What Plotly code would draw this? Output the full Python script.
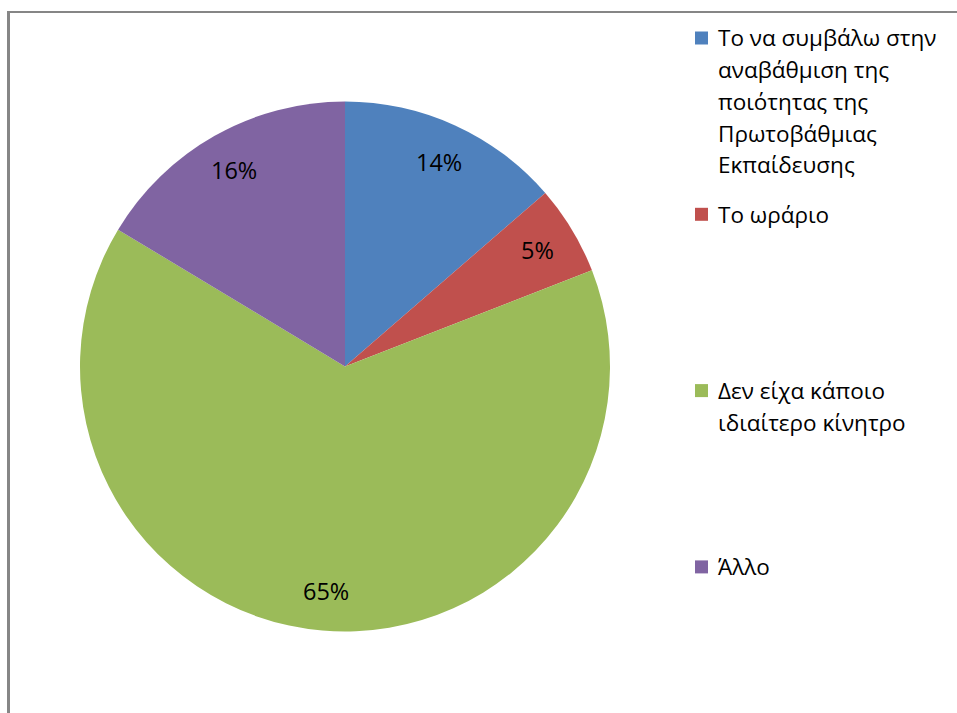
import math
import plotly.graph_objects as go

# Survey answers: motivation for choosing the profession
labels = [
    "Το να συμβάλω στην αναβάθμιση της ποιότητας της Πρωτοβάθμιας Εκπαίδευσης",
    "Το ωράριο",
    "Δεν είχα κάποιο ιδιαίτερο κίνητρο",
    "Άλλο",
]
# wrapped form of each label as shown beside the pie
label_lines = [
    ["Το να συμβάλω στην", "αναβάθμιση της", "ποιότητας της", "Πρωτοβάθμιας", "Εκπαίδευσης"],
    ["Το ωράριο"],
    ["Δεν είχα κάποιο", "ιδιαίτερο κίνητρο"],
    ["Άλλο"],
]
counts = [15, 6, 71, 18]
colors = ["#4F81BD", "#C0504D", "#9BBB59", "#8064A2"]

W, H = 957, 713
CX, CY, R = 345, 366.5, 265   # pie centre and radius in pixels
FONT = "Open Sans"

fig = go.Figure(
    go.Pie(
        labels=labels,
        values=counts,
        sort=False,
        direction="clockwise",
        rotation=0,
        marker=dict(colors=colors, line=dict(width=0)),
        textinfo="none",
        hoverinfo="label+percent",
        showlegend=False,
        domain=dict(x=[(CX - R) / W, (CX + R) / W], y=[(H - CY - R) / H, (H - CY + R) / H]),
    )
)

annotations = []
shapes = []

# percentage labels placed inside each slice at 85% of the radius
total = sum(counts)
cum = 0
for v in counts:
    mid = (cum + v / 2) / total * 2 * math.pi
    cum += v
    px = CX + 0.85 * R * math.sin(mid)
    py = CY - 0.85 * R * math.cos(mid)
    annotations.append(dict(
        x=px / W, y=1 - py / H, xref="paper", yref="paper",
        text=f"{round(v / total * 100)}%", showarrow=False,
        xanchor="center", yanchor="middle",
        font=dict(family=FONT, size=23.5, color="#000000"),
    ))

# legend drawn beside the pie
LEG_TOP, ITEM_STEP, LINE_STEP = 38, 176.3, 31.7
SQ_X0, SQ = 695, 13
TEXT_X = 716
for i, (lines, col) in enumerate(zip(label_lines, colors)):
    y0 = LEG_TOP + i * ITEM_STEP
    shapes.append(dict(
        type="rect", xref="paper", yref="paper",
        x0=SQ_X0 / W, x1=(SQ_X0 + SQ) / W,
        y0=1 - (y0 - SQ / 2) / H, y1=1 - (y0 + SQ / 2) / H,
        fillcolor=col, line=dict(width=0),
    ))
    for j, ln in enumerate(lines):
        annotations.append(dict(
            x=TEXT_X / W, y=1 - (y0 + j * LINE_STEP) / H, xref="paper", yref="paper",
            text=ln, showarrow=False, xanchor="left", yanchor="middle",
            font=dict(family=FONT, size=22.5, color="#000000"),
        ))

# frame lines along the top and left edges
shapes.append(dict(type="line", xref="paper", yref="paper",
                   x0=7 / W, x1=1, y0=1 - 12 / H, y1=1 - 12 / H,
                   line=dict(color="#868686", width=2)))
shapes.append(dict(type="line", xref="paper", yref="paper",
                   x0=8.5 / W, x1=8.5 / W, y0=1 - 11 / H, y1=0,
                   line=dict(color="#868686", width=3)))

fig.update_layout(
    width=W, height=H,
    margin=dict(l=0, r=0, t=0, b=0),
    paper_bgcolor="#FFFFFF",
    plot_bgcolor="#FFFFFF",
    annotations=annotations,
    shapes=shapes,
    showlegend=False,
)

fig.write_html("out.html")
